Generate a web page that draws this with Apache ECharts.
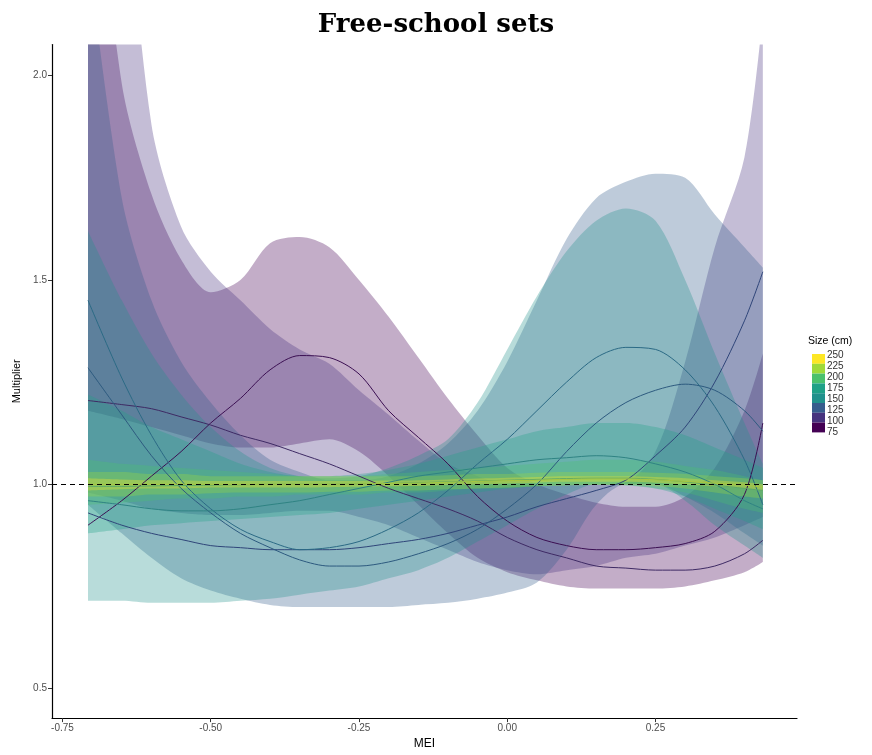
<!DOCTYPE html>
<html>
<head>
<meta charset="utf-8">
<script src="https://cdn.jsdelivr.net/npm/echarts@6/dist/echarts.min.js"></script>
<style>html,body{margin:0;padding:0;background:#fff;}#c{width:872px;height:755px;}</style>
</head>
<body>
<div id="c"></div>
<script>
// ---- data ----
const mei = [-0.707,-0.65,-0.6,-0.55,-0.5,-0.45,-0.4,-0.35,-0.3,-0.25,-0.2,-0.15,-0.1,-0.05,0,0.05,0.1,0.15,0.2,0.25,0.3,0.35,0.4,0.431];
const sizes = [75,100,125,150,175,200,225,250];
const xTicks = [-0.75,-0.5,-0.25,0,0.25];
const yTicks = [0.5,1.0,1.5,2.0];

const lo75  = [1.18,1.16,1.14,1.12,1.10,1.09,1.09,1.10,1.11,1.08,1.02,0.95,0.88,0.82,0.785,0.765,0.75,0.745,0.745,0.745,0.75,0.765,0.785,0.81];
const hi75  = [2.7,1.98,1.71,1.55,1.47,1.50,1.59,1.605,1.58,1.50,1.41,1.31,1.21,1.12,1.04,1.0,0.975,0.955,0.945,0.945,0.97,1.04,1.18,1.32];
const mid75 = [0.90,0.96,1.02,1.08,1.15,1.21,1.28,1.315,1.31,1.27,1.18,1.115,1.05,0.97,0.91,0.87,0.85,0.84,0.84,0.845,0.855,0.885,0.975,1.15];

const lo100  = [0.98,0.96,0.94,0.93,0.925,0.925,0.93,0.935,0.935,0.92,0.90,0.87,0.84,0.81,0.79,0.78,0.79,0.80,0.82,0.83,0.85,0.87,0.90,0.92];
const hi100  = [3.5,2.6,1.88,1.63,1.52,1.45,1.38,1.33,1.295,1.23,1.17,1.107,1.05,1.02,1.0,1.0,1.0,1.0,1.005,1.08,1.30,1.58,1.80,2.15];
const mid100 = [1.205,1.195,1.185,1.165,1.145,1.12,1.10,1.075,1.05,1.02,0.99,0.965,0.94,0.91,0.87,0.84,0.82,0.80,0.795,0.79,0.79,0.80,0.83,0.863];

const lo125  = [0.95,0.88,0.82,0.77,0.74,0.72,0.705,0.70,0.70,0.70,0.70,0.705,0.71,0.72,0.735,0.76,0.84,0.95,1.0,1.0,0.97,0.93,0.88,0.85];
const hi125  = [2.3,1.7,1.45,1.30,1.20,1.12,1.06,1.03,1.01,1.01,1.02,1.05,1.10,1.18,1.30,1.45,1.60,1.70,1.74,1.76,1.75,1.66,1.58,1.53];
const mid125 = [0.93,0.90,0.88,0.865,0.85,0.845,0.84,0.84,0.84,0.845,0.855,0.865,0.88,0.90,0.92,0.945,0.965,0.985,1.01,1.07,1.14,1.25,1.40,1.52];

const lo150  = [0.715,0.715,0.71,0.71,0.71,0.715,0.72,0.73,0.74,0.75,0.77,0.79,0.82,0.86,0.90,0.94,0.975,1.0,1.0,1.0,0.96,0.90,0.85,0.82];
const hi150  = [1.62,1.45,1.32,1.22,1.14,1.08,1.04,1.02,1.015,1.02,1.04,1.07,1.11,1.20,1.33,1.46,1.57,1.645,1.675,1.645,1.50,1.32,1.15,1.05];
const mid150 = [1.285,1.17,1.07,0.99,0.93,0.88,0.845,0.815,0.80,0.80,0.81,0.83,0.855,0.89,0.94,1.0,1.08,1.15,1.20,1.23,1.245,1.23,1.18,1.13];

const lo175  = [0.88,0.89,0.90,0.905,0.91,0.915,0.92,0.925,0.93,0.94,0.95,0.96,0.97,0.98,0.99,0.995,1.0,1.0,0.998,0.99,0.97,0.94,0.91,0.89];
const hi175  = [1.22,1.18,1.14,1.11,1.08,1.05,1.03,1.02,1.02,1.025,1.035,1.05,1.07,1.09,1.11,1.13,1.14,1.15,1.15,1.14,1.12,1.09,1.06,1.04];
const mid175 = [1.45,1.26,1.12,1.01,0.94,0.89,0.86,0.84,0.845,0.86,0.89,0.93,0.985,1.05,1.11,1.18,1.25,1.31,1.335,1.33,1.28,1.19,1.06,0.95];

const lo200  = [0.95,0.955,0.96,0.965,0.965,0.97,0.97,0.975,0.975,0.975,0.98,0.98,0.985,0.99,0.99,0.995,0.997,0.998,0.997,0.99,0.98,0.96,0.94,0.93];
const hi200  = [1.06,1.05,1.045,1.04,1.035,1.03,1.025,1.02,1.02,1.02,1.025,1.03,1.035,1.04,1.045,1.05,1.055,1.06,1.06,1.055,1.045,1.035,1.02,1.01];
const mid200 = [0.96,0.95,0.94,0.935,0.935,0.94,0.95,0.96,0.975,0.99,1.005,1.02,1.03,1.04,1.05,1.06,1.065,1.07,1.065,1.05,1.03,1.0,0.96,0.94];

const lo225  = [0.97,0.97,0.975,0.975,0.978,0.98,0.98,0.98,0.982,0.982,0.985,0.985,0.988,0.99,0.992,0.995,0.997,0.998,0.998,0.995,0.99,0.98,0.97,0.965];
const hi225  = [1.03,1.03,1.025,1.025,1.02,1.02,1.02,1.02,1.02,1.02,1.02,1.02,1.022,1.025,1.025,1.028,1.03,1.03,1.03,1.028,1.025,1.02,1.015,1.01];
const mid225 = [0.995,0.995,0.996,0.997,0.998,0.999,1.0,1.0,1.0,1.001,1.002,1.004,1.006,1.008,1.01,1.012,1.014,1.015,1.015,1.012,1.006,0.998,0.99,0.985];

const lo250  = [0.985,0.988,0.99,0.99,0.992,0.992,0.992,0.992,0.993,0.994,0.995,0.996,0.998,1.0,1.002,1.004,1.006,1.006,1.006,1.004,1.0,0.995,0.99,0.985];
const hi250  = [1.015,1.012,1.01,1.01,1.008,1.008,1.008,1.008,1.008,1.008,1.009,1.01,1.012,1.014,1.016,1.018,1.02,1.02,1.02,1.018,1.015,1.01,1.005,1.0];
const mid250 = [1.0,1.0,1.0,1.0,1.0,1.0,1.0,1.0,1.0,1.001,1.002,1.003,1.005,1.007,1.009,1.01,1.012,1.013,1.013,1.011,1.007,1.003,0.998,0.993];

// ---- styles ----
const fillColors = ['#440154','#46337E','#365C8D','#21918C','#1FA187','#4AC16D','#9FDA3A','#FDE725'];
const lineColors = ['#3b0f52','#3e2a64','#2f4579','#2d5a7f','#2b6a85','#2f8383','#5aa86a','#a8c640'];

const los = [lo75,lo100,lo125,lo150,lo175,lo200,lo225,lo250];
const his = [hi75,hi100,hi125,hi150,hi175,hi200,hi225,hi250];
const mids = [mid75,mid100,mid125,mid150,mid175,mid200,mid225,mid250];

const SM = 0.3;
const series = [];
// rows are [y, x] so that the stacked dimension is y (stacking by index)
sizes.forEach((s, i) => {
  const stack = 'band' + s;
  series.push({
    type: 'line', stack: stack, smooth: SM, symbol: 'none', silent: true,
    encode: { x: 1, y: 0 },
    data: mei.map((x, j) => [los[i][j], x]),
    lineStyle: { width: 0, opacity: 0 }, z: 1
  });
  series.push({
    type: 'line', stack: stack, smooth: SM, symbol: 'none', silent: true,
    encode: { x: 1, y: 0 },
    data: mei.map((x, j) => [his[i][j] - los[i][j], x]),
    lineStyle: { width: 0, opacity: 0 },
    areaStyle: { color: fillColors[i], opacity: 0.32 }, z: 1
  });
});
sizes.forEach((s, i) => {
  series.push({
    type: 'line', smooth: SM, symbol: 'none', silent: true,
    data: mei.map((x, j) => [x, mids[i][j]]),
    lineStyle: { color: lineColors[i], width: 1 }, z: 3
  });
});
series.push({
  type: 'line', data: [], silent: true, z: 5,
  markLine: {
    silent: true, symbol: 'none', label: { show: false },
    lineStyle: { color: '#000', type: [5, 4], width: 1.2 },
    data: [{ yAxis: 1 }]
  }
});

// legend (colour bar) built from sizes
const legendGraphics = [{
  type: 'text', left: 808, top: 336,
  style: { text: 'Size (cm)', font: '10.5px "Liberation Sans", Arial, sans-serif', fill: '#000' }
}];
const order = sizes.slice().reverse();
order.forEach((s, k) => {
  const idx = sizes.indexOf(s);
  legendGraphics.push({
    type: 'rect', shape: { x: 812, y: 354 + k * 9.8, width: 13, height: 9.8 },
    style: { fill: fillColors[idx] }
  });
  legendGraphics.push({
    type: 'text', x: 827, y: 355 + k * 11.1,
    style: { text: String(s), font: '10px "Liberation Sans", Arial, sans-serif', fill: '#333', verticalAlign: 'middle' }
  });
});

const chart = echarts.init(document.getElementById('c'), null, { renderer: 'canvas' });
chart.setOption({
  animation: false,
  backgroundColor: '#fff',
  title: {
    text: 'Free-school sets', left: 'center', top: 7,
    textStyle: { fontFamily: 'DejaVu Serif', fontWeight: 'bold', fontSize: 26, color: '#000' }
  },
  grid: { left: 52, top: 44.5, width: 745, height: 677, containLabel: false },
  xAxis: {
    type: 'value', min: -0.7677, max: 0.4886,
    name: 'MEI', nameLocation: 'middle', nameGap: 17,
    nameTextStyle: { fontFamily: 'Liberation Sans', fontSize: 12, color: '#000' },
    axisLine: { show: true, onZero: false, lineStyle: { color: '#000', width: 1.2 } },
    axisTick: { show: true, length: 4, customValues: xTicks, lineStyle: { color: '#333' } },
    axisLabel: { customValues: xTicks, formatter: v => v.toFixed(2), fontFamily: 'Liberation Sans', fontSize: 10, color: '#4d4d4d', margin: 5 },
    splitLine: { show: false }
  },
  yAxis: {
    type: 'value', min: 0.428, max: 2.076,
    name: 'Multiplier', nameLocation: 'middle', nameGap: 28,
    nameTextStyle: { fontFamily: 'Liberation Sans', fontSize: 11, color: '#000' },
    axisLine: { show: true, onZero: false, lineStyle: { color: '#000', width: 1.2 } },
    axisTick: { show: true, length: 4, customValues: yTicks, lineStyle: { color: '#333' } },
    axisLabel: { customValues: yTicks, formatter: v => v.toFixed(1), fontFamily: 'Liberation Sans', fontSize: 10, color: '#4d4d4d', margin: 5 },
    splitLine: { show: false }
  },
  graphic: legendGraphics,
  series: series
});
</script>
</body>
</html>
